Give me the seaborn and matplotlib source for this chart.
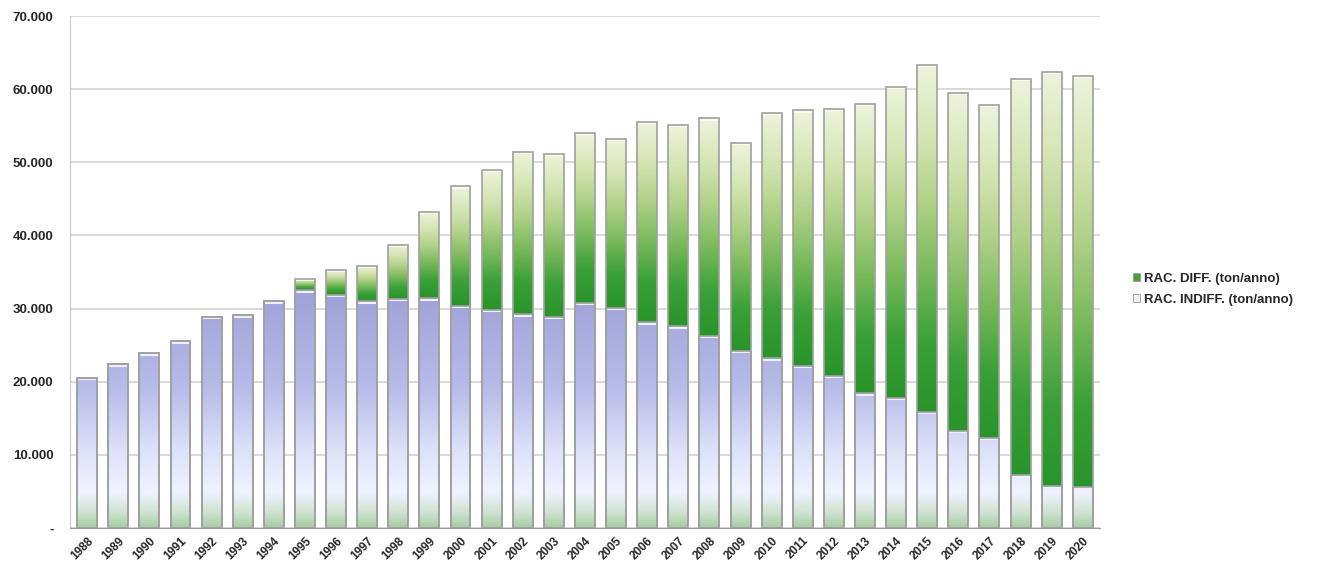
import numpy as np
import pandas as pd
import matplotlib
matplotlib.use("Agg")
import matplotlib.pyplot as plt
import seaborn as sns
from matplotlib.colors import LinearSegmentedColormap
from matplotlib.patches import Patch
from matplotlib.ticker import FuncFormatter

# data (ton/anno)
anni = ["1988", "1989", "1990", "1991", "1992", "1993", "1994", "1995", "1996",
        "1997", "1998", "1999", "2000", "2001", "2002", "2003", "2004", "2005",
        "2006", "2007", "2008", "2009", "2010", "2011", "2012", "2013", "2014",
        "2015", "2016", "2017", "2018", "2019", "2020"]
rac_indiff = [20500, 22400, 23900, 25500, 28900, 29100, 31000, 32500, 31900,
              31000, 31300, 31400, 30400, 29800, 29200, 28900, 30800, 30100,
              28100, 27600, 26300, 24200, 23200, 22200, 20800, 18400, 17800,
              15900, 13300, 12300, 7200, 5700, 5600]
rac_diff = [0, 0, 0, 0, 0, 0, 0, 1600, 3400,
            4800, 7400, 11800, 16300, 19100, 22200, 22300, 23200, 23100,
            27400, 27500, 29700, 28400, 33600, 34900, 36500, 39600, 42500,
            47400, 46200, 45500, 54200, 56700, 56200]

lbl_diff = "RAC. DIFF. (ton/anno)"
lbl_indiff = "RAC. INDIFF. (ton/anno)"

df = pd.DataFrame({"anno": anni, "indiff": rac_indiff, "diff": rac_diff})
df["totale"] = df["indiff"] + df["diff"]

sns.set_style("white")
plt.rcParams["font.family"] = ["Liberation Sans", "DejaVu Sans"]
plt.rcParams["font.weight"] = "bold"

fig = plt.figure(figsize=(13.22, 5.75), dpi=100)
ax = fig.add_axes([0.053, 0.082, 0.779, 0.890])

edge = "#a0a0a0"
sns.barplot(data=df, x="anno", y="totale", color="#5aaa48", width=0.64,
            edgecolor=edge, linewidth=1.2, ax=ax, zorder=2)
sns.barplot(data=df, x="anno", y="indiff", color="#b4b8e6", width=0.64,
            edgecolor=edge, linewidth=1.2, ax=ax, zorder=3)

# gradients clipped to the bar shapes
cm_green = LinearSegmentedColormap.from_list(
    "g", ["#28942a", "#3aa038", "#78b95a", "#afd187", "#d6e5b4", "#eef4dc"])
cm_blue = LinearSegmentedColormap.from_list(
    "b", [(0.0, "#a6cda3"), (0.06, "#cfe3d2"), (0.14, "#f0f3ff"),
          (0.30, "#dfe3fa"), (0.55, "#b9bdea"), (1.0, "#9a9ed6")])

n = len(anni)
tot_patches = ax.patches[:n]
ind_patches = ax.patches[n:2 * n]
for i, p in enumerate(tot_patches):
    x0 = p.get_x()
    w = p.get_width()
    lo = df["indiff"][i]
    hi = df["totale"][i]
    if hi > lo:
        grad = np.linspace(0, 1, 256).reshape(-1, 1)
        im = ax.imshow(grad, extent=[x0, x0 + w, lo, hi], aspect="auto",
                       cmap=cm_green, origin="lower", zorder=2.5)
        im.set_clip_path(p)
        ax.plot([x0 + 0.05, x0 + w - 0.05], [hi - 150, hi - 150],
                color="#f8fbee", lw=1.5, zorder=2.6)
for i, p in enumerate(ind_patches):
    x0 = p.get_x()
    w = p.get_width()
    h = df["indiff"][i]
    vals = np.linspace(0, h, 256).reshape(-1, 1) / 34000
    im = ax.imshow(vals, extent=[x0, x0 + w, 0, h], aspect="auto",
                   cmap=cm_blue, vmin=0, vmax=1, origin="lower", zorder=3.5)
    im.set_clip_path(p)
    ax.plot([x0 + 0.05, x0 + w - 0.05], [h - 200, h - 200],
            color="#eef0ff", lw=1.5, zorder=3.6)
# outlines on top
for p in ax.patches[:2 * n]:
    p.set_facecolor("none")
    p.set_zorder(4)

ax.set_xlim(-0.55, n - 0.45)
ax.set_ylim(0, 70000)
ax.set_yticks(np.arange(0, 70001, 10000))
ax.yaxis.set_major_formatter(FuncFormatter(
    lambda v, pos: "-" if v == 0 else f"{int(v):,}".replace(",", ".")))
ax.yaxis.grid(True, color="#d2d2d2", lw=1.2, zorder=0)
ax.set_axisbelow(True)
ax.set_xlabel("")
ax.set_ylabel("")
for s in ["top", "right"]:
    ax.spines[s].set_visible(False)
ax.spines["left"].set_color("#c8c8c8")
ax.spines["bottom"].set_color("#9a9a9a")
ax.tick_params(axis="y", length=0, labelsize=9.5, pad=12)
ax.tick_params(axis="x", length=0, labelsize=8.5, pad=5)
for t in ax.get_yticklabels():
    t.set_fontweight("bold")
for t in ax.get_xticklabels():
    t.set_rotation(45)
    t.set_ha("right")
    t.set_rotation_mode("anchor")
    t.set_fontweight("bold")

handles = [Patch(facecolor="#4a9e3c", edgecolor="#9a9a9a", lw=0.6),
           Patch(facecolor="#eceef9", edgecolor="#9a9a9a", lw=0.6)]
fig.legend(handles, [lbl_diff, lbl_indiff], loc="center left",
           bbox_to_anchor=(0.848, 0.497), frameon=False, handlelength=0.55,
           handleheight=0.55, handletextpad=0.3, labelspacing=0.7,
           prop={"weight": "bold", "size": 9.5})

fig.savefig("out.png", dpi=100)
